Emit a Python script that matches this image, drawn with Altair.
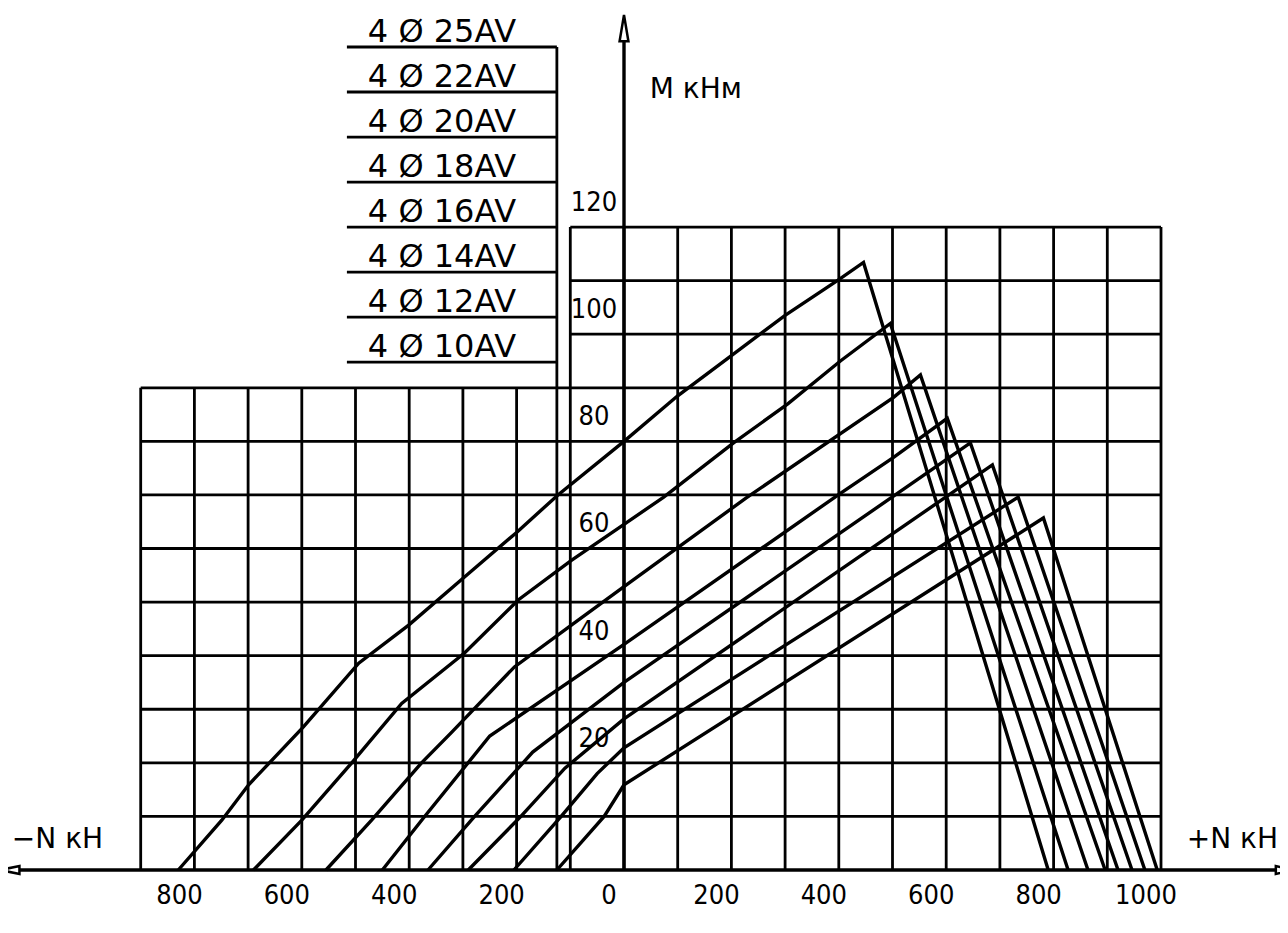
import altair as alt
import pandas as pd

# ---------------- data (kN, kNm) ----------------
SERIES = ["4 Ø 25AV", "4 Ø 22AV", "4 Ø 20AV", "4 Ø 18AV",
          "4 Ø 16AV", "4 Ø 14AV", "4 Ø 12AV", "4 Ø 10AV"]

N_25 = [-830, -749, -699, -597, -494, -401, -297, -200, -123, 0, 100, 200, 300, 400, 446, 790]
M_25 = [0, 9.3, 15.9, 26.7, 38.6, 45.7, 54.7, 63, 70, 80, 88.5, 96.0, 103.5, 110.2, 113.4, 0]

N_22 = [-690, -600, -507, -414, -297, -197, -98, 0, 74, 204, 305, 403, 496, 827]
M_22 = [0, 9.3, 20, 31.1, 40.5, 50.4, 57.8, 64.5, 69.6, 79.7, 87, 95, 102, 0]

N_20 = [-555, -470, -377, -322, -204, -98, 0, 227, 502, 552, 864]
M_20 = [0, 9.3, 20, 25.6, 37.9, 45.7, 52.9, 69.4, 88.2, 92.4, 0]

N_18 = [-450, -372, -250, 0, 403, 502, 602, 896]
M_18 = [0, 9.9, 25, 42.1, 70.3, 77, 84.3, 0]

N_16 = [-365, -279, -170, 0, 645, 920]
M_16 = [0, 9.9, 22, 35, 79.7, 0]

N_14 = [-290, -192, -110, 0, 686, 946]
M_14 = [0, 10, 19, 28.2, 75.6, 0]

N_12 = [-205, -117, -50, 0, 734, 970]
M_12 = [0, 10, 18, 22.8, 69.6, 0]

N_10 = [-125, -37, 0, 781, 993]
M_10 = [0, 10, 15.9, 65.7, 0]

CURVES_N = [N_25, N_22, N_20, N_18, N_16, N_14, N_12, N_10]
CURVES_M = [M_25, M_22, M_20, M_18, M_16, M_14, M_12, M_10]

N_GRID = list(range(-900, 1001, 100))      # vertical grid lines
M_GRID = list(range(10, 121, 10))          # horizontal grid lines
N_LABELS = [-800, -600, -400, -200, 0, 200, 400, 600, 800, 1000]
M_LABELS = [20, 40, 60, 80, 100, 120]
LEGEND_M = [153.6, 145.2, 136.8, 128.4, 120.0, 111.6, 103.2, 94.8]

# ---------------- geometry of the drawing ----------------
W, H = 1272, 917
KX, X0 = 0.537, 616.0     # px per kN, px of N = 0
KY, Y0 = 5.358, 862.0     # px per kNm, px of M = 0
XS = alt.Scale(domain=[-X0 / KX, (W - X0) / KX], nice=False, zero=False)
YS = alt.Scale(domain=[(Y0 - H) / KY, Y0 / KY], nice=False, zero=False)


def X(f="x"):
    return alt.X(f"{f}:Q", scale=XS, axis=None)


def Y(f="y"):
    return alt.Y(f"{f}:Q", scale=YS, axis=None)


# ---------------- tables ----------------
curve_rows = []
for s, ns, ms in zip(SERIES, CURVES_N, CURVES_M):
    for i, (n, m) in enumerate(zip(ns, ms)):
        curve_rows.append(dict(series=s, i=i, x=n, y=m))
curves = pd.DataFrame(curve_rows)

grid_rows = []
for n in N_GRID:
    grid_rows.append(dict(x=n, x2=n, y=0, y2=120 if n >= -100 else 90))
for m in M_GRID:
    grid_rows.append(dict(x=-900 if m <= 90 else -100, x2=1000, y=m, y2=m))
# legend frame
for m in LEGEND_M:
    grid_rows.append(dict(x=-516, x2=-125, y=m, y2=m))
grid_rows.append(dict(x=-125, x2=-125, y=0, y2=LEGEND_M[0]))
grid = pd.DataFrame(grid_rows)

axes = pd.DataFrame([
    dict(x=-1138, x2=1228, y=0, y2=0),
    dict(x=0, x2=0, y=0, y2=155),
])

legend_txt = pd.DataFrame(dict(x=[-477] * len(SERIES), y=LEGEND_M, t=SERIES))
n_lab = pd.DataFrame(dict(x=N_LABELS, y=[0] * len(N_LABELS), t=[str(abs(v)) for v in N_LABELS]))
m_lab = pd.DataFrame(dict(x=[-56] * len(M_LABELS), y=[v + 4.5 for v in M_LABELS],
                          t=[str(v) for v in M_LABELS]))
titles = pd.DataFrame(dict(x=[48, -1140, 1048], y=[145.6, 5.6, 5.6],
                           t=["M  кНм", "−N  кН", "+N  кН"]))

arrows = pd.DataFrame(dict(x=[0, -1143, 1231], y=[157, 0, 0], k=["up", "left", "right"]))

DIGITS = "Liberation Sans Narrow, DejaVu Sans Condensed, Liberation Sans, sans-serif"

# ---------------- layers ----------------
grid_layer = alt.Chart(grid).mark_rule(color="black", strokeWidth=2.8).encode(
    x=X(), x2="x2:Q", y=Y(), y2="y2:Q")

axes_layer = alt.Chart(axes).mark_rule(color="black", strokeWidth=3.4).encode(
    x=X(), x2="x2:Q", y=Y(), y2="y2:Q")

curve_layer = alt.Chart(curves).mark_line(color="black", strokeWidth=3.4, strokeJoin="miter").encode(
    x=X(), y=Y(), detail="series:N", order="i:Q")

arrow_up = alt.Chart(arrows[arrows.k == "up"]).mark_point(
    shape="M0,-1L0.32,0.9L-0.32,0.9Z", size=760, filled=True, fill="white",
    stroke="black", strokeWidth=2.5, opacity=1).encode(x=X(), y=Y())
arrow_left = alt.Chart(arrows[arrows.k == "left"]).mark_point(
    shape="M-1,0L0.9,-0.38L0.9,0.38Z", size=420, filled=True, fill="white",
    stroke="black", strokeWidth=2.5, opacity=1).encode(x=X(), y=Y())
arrow_right = alt.Chart(arrows[arrows.k == "right"]).mark_point(
    shape="M1,0L-0.9,-0.38L-0.9,0.38Z", size=420, filled=True, fill="white",
    stroke="black", strokeWidth=2.5, opacity=1).encode(x=X(), y=Y())

legend_layer = alt.Chart(legend_txt).mark_text(
    align="left", baseline="alphabetic", dy=-5, font="DejaVu Sans", fontSize=32,
    color="black").encode(x=X(), y=Y(), text="t:N")

n_lab_layer = alt.Chart(n_lab).mark_text(
    align="center", baseline="middle", dx=-15, dy=26, font=DIGITS, fontSize=27,
    color="black").encode(x=X(), y=Y(), text="t:N")

m_lab_layer = alt.Chart(m_lab).mark_text(
    align="center", baseline="middle", font=DIGITS, fontSize=27,
    color="black").encode(x=X(), y=Y(), text="t:N")

title_layer = alt.Chart(titles).mark_text(
    align="left", baseline="middle", font="DejaVu Sans", fontSize=28,
    color="black").encode(x=X(), y=Y(), text="t:N")

chart = alt.layer(
    grid_layer, axes_layer, curve_layer, arrow_up, arrow_left, arrow_right,
    legend_layer, n_lab_layer, m_lab_layer, title_layer,
).properties(
    width=W, height=H, padding=0, background="white",
    autosize=alt.AutoSizeParams(type="none"),
).configure_view(strokeWidth=0)

chart.save("out.html", embed_options={"renderer": "svg", "actions": False})
